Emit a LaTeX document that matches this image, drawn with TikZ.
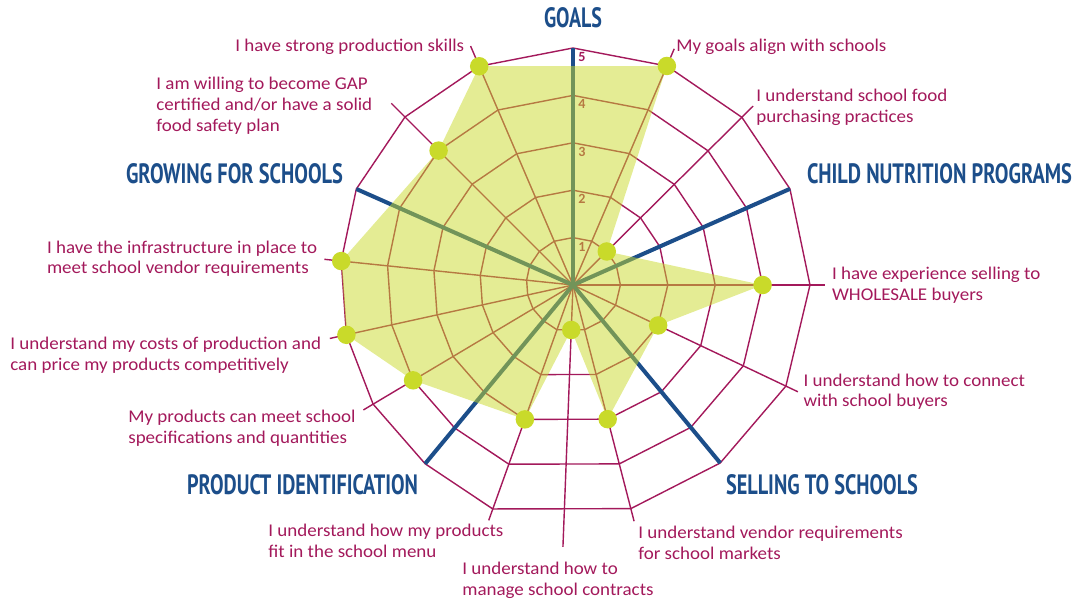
\documentclass[tikz,border=0pt]{standalone}
\usepackage{fontspec}
\setmainfont{Carlito}
\newfontfamily\lblfont{Carlito}[FakeStretch=1.06]
\newfontfamily\catfont{PT Sans}
\usepackage{graphicx}
\usepackage{tikz}
\usetikzlibrary{calc}

\definecolor{mag}{HTML}{A3195B}
\definecolor{catblue}{HTML}{1C4E8A}
\definecolor{lime}{HTML}{C9DA2A}

\tikzset{
  webline/.style={mag, line width=0.8pt},
  catline/.style={catblue, line width=2.3pt},
  lbl/.style={anchor=north west, inner sep=0pt, align=left, text=mag, font=\lblfont\fontsize{10.2}{11.8}\selectfont},
  catlbl/.style={text=catblue, inner sep=0pt, font=\catfont\bfseries},
  numlbl/.style={text=mag, inner sep=0pt, font=\fontsize{8}{9}\selectfont\bfseries},
  datadot/.style={circle, fill=lime, inner sep=0pt, minimum size=0.37cm}
}

\begin{document}
\begin{tikzpicture}[x=0.02cm, y=0.02cm]
        \useasboundingbox (-573,-320) rectangle (503,285);
        \coordinate (c) at (0,0);

        % ring corners, clockwise from goals
        \foreach \i/\a/\r in {1/90/237, 2/66.8/238.3, 3/44.8/238, 4/23.9/237.3, 5/0/237, 6/-25.4/235.7, 7/-50.4/231, 8/-75.5/231,
                              9/-109.7/237.9, 10/-129.6/232, 11/-149.2/232.7, 12/-167.6/232, 13/174.1/233, 14/156.1/237, 15/135/237.6, 16/113.2/238}
          \coordinate (s\i) at (\a:\r);
        % leader ends
        \foreach \i/\a/\r in {2/66.8/257, 3/44.8/254, 5/0/252, 6/-25.4/249, 8/-75.5/244, 9/-109.7/250,
                              11/-149.2/244, 12/-167.6/249, 13/174.1/250, 15/135/257, 16/113.2/260}
          \coordinate (e\i) at (\a:\r);
        \coordinate (e17) at (-92.2:262);  %contracts, no corner

        \foreach \k in {1,...,5}
          \draw[webline] ($(c)!\k/5!(s1)$) \foreach \i in {2,...,16} {-- ($(c)!\k/5!(s\i)$)} -- cycle;  %rings
        \foreach \i in {2,3,5,6,8,9,11,12,13,15,16,17}
          \draw[webline] (c) -- (e\i);  %spokes
        \foreach \i in {1,4,7,10,14}
          \draw[catline] (c) -- (s\i);  %categories
        \foreach \k in {1,...,5}
          \node[numlbl] (n\k) at (9,{\k*47.4-9}) {\k};

        % scores
        \foreach \j/\i/\v in {1/2/5, 2/3/1, 3/5/4, 4/6/2, 5/8/3, 7/9/3, 8/11/4, 9/12/5, 10/13/5, 11/15/4, 12/16/5}
          \coordinate (p\j) at ($(c)!\v/5!(s\i)$);
        \coordinate (p6) at (-92.2:45);
        \fill[lime, fill opacity=0.5] (p1) \foreach \j in {2,...,12} {-- (p\j)} -- cycle;
        \foreach \j in {1,...,12}
          \node[datadot] (d\j) at (p\j) {};

        \node[lbl] (l1) at (103,248.5) {\strut My goals align with schools};
        \node[lbl] (l2) at (183,198.5) {\strut I understand school food\\purchasing practices};
        \node[lbl] (l3) at (258.7,20.5) {\strut I have experience selling to\\WHOLESALE buyers};
        \node[lbl] (l4) at (230.3,-86.2) {\strut I understand how to connect\\with school buyers};
        \node[lbl] (l5) at (65,-238.5) {\strut I understand vendor requirements\\for school markets};
        \node[lbl] (l6) at (-111,-274.5) {\strut I understand how to\\manage school contracts};
        \node[lbl] (l7) at (-305,-236.5) {\strut I understand how my products\\fit in the school menu};
        \node[lbl] (l8) at (-445,-122.5) {\strut My products can meet school\\specifications and quantities};
        \node[lbl] (l9) at (-563,-49.8) {\strut I understand my costs of production and\\can price my products competitively};
        \node[lbl] (l10) at (-526.3,46.8) {\strut I have the infrastructure in place to\\meet school vendor requirements};
        \node[lbl] (l11) at (-417,210.2) {\strut I am willing to become GAP\\certified and/or have a solid\\food safety plan};
        \node[lbl] (l12) at (-338,248.8) {\strut I have strong production skills};

        \node[catlbl] (goals) at (0,267.3) {\resizebox{1.16cm}{0.4cm}{GOALS}};
        \node[catlbl] (cnp) at (366.5,111) {\resizebox{5.3cm}{0.4cm}{CHILD NUTRITION PROGRAMS}};
        \node[catlbl] (selling) at (249,-200) {\resizebox{3.84cm}{0.4cm}{SELLING TO SCHOOLS}};
        \node[catlbl] (product) at (-270.5,-200) {\resizebox{4.62cm}{0.4cm}{PRODUCT IDENTIFICATION}};
        \node[catlbl] (growing) at (-338.5,111) {\resizebox{4.34cm}{0.4cm}{GROWING FOR SCHOOLS}};
      \end{tikzpicture}
\end{document}
